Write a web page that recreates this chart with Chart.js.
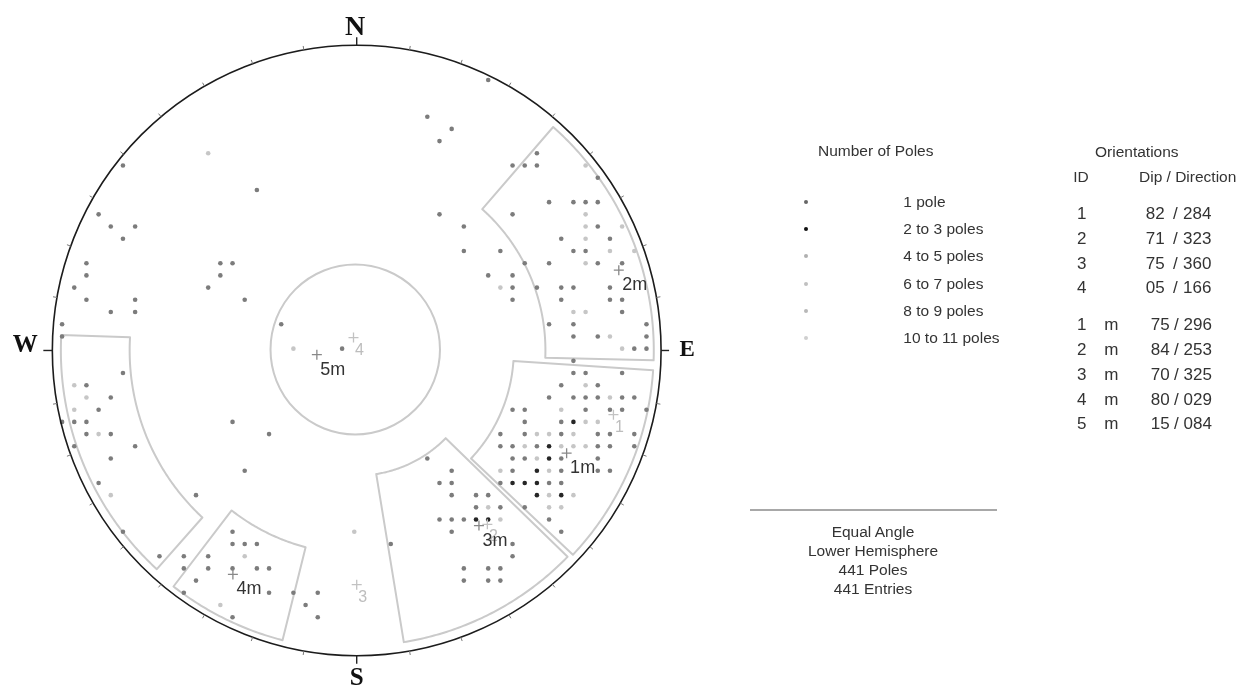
<!DOCTYPE html>
<html>
<head>
<meta charset="utf-8">
<script src="https://cdn.jsdelivr.net/npm/chart.js@4.4.1/dist/chart.umd.min.js"></script>
<style>
  html, body { margin: 0; padding: 0; background: #fff; }
  #wrap { position: relative; width: 1247px; height: 693px; overflow: hidden;
          font-family: "Liberation Sans", Arial, sans-serif; color: #333; }
  #net { position: absolute; left: 0; top: 0; }
  .t { position: absolute; white-space: pre; line-height: 1; }
  .compass { font-family: "Liberation Serif", "Times New Roman", serif; font-weight: bold; color: #111; }
  .mk { position: absolute; border-radius: 50%; transform: translate(-50%, -50%); }
</style>
</head>
<body>
<div id="wrap"><canvas id="net" width="1247" height="693"></canvas></div>
<script>
// Poles binned on the counting grid, one [column, row] cell per symbol
const singlePoles = [
  [5,0],[16,2],[3,4],[4,5],[6,5],[5,6],[2,8],[2,9],[1,10],[2,11],[6,11],[4,12],[6,12],[0,13],[0,14],
  [13,8],[14,8],[13,9],[12,10],[15,11],[18,13],
  [35,-7],[30,-4],[32,-3],[31,-2],[39,-1],[37,0],[38,0],[39,0],[44,1],[40,3],[42,3],[43,3],[44,3],
  [31,4],[37,4],[33,5],[44,5],[41,6],[45,6],[33,7],[36,7],[42,7],[43,7],[38,8],[40,8],[44,8],[46,8],
  [35,9],[37,9],[37,10],[39,10],[41,10],[42,10],[45,10],[37,11],[41,11],[45,11],[46,11],[46,12],
  [40,13],[42,13],[48,13],[42,14],[44,14],[48,14],[47,15],[48,15],
  [42,16],[42,17],[43,17],[46,17],[41,18],[44,18],
  [40,19],[42,19],[43,19],[44,19],[46,19],[47,19],
  [37,20],[38,20],[43,20],[45,20],[46,20],[48,20],[38,21],[41,21],
  [36,22],[38,22],[41,22],[44,22],[45,22],[47,22],
  [36,23],[37,23],[39,23],[44,23],[45,23],[47,23],
  [30,24],[37,24],[38,24],[41,24],[44,24],[32,25],[37,25],[41,25],[44,25],[45,25],
  [31,26],[32,26],[36,26],[40,26],[41,26],[32,27],[34,27],[35,27],[34,28],[36,28],[38,28],
  [31,29],[32,29],[33,29],[40,29],[32,30],[41,30],[27,31],[37,31],[37,32],
  [33,33],[35,33],[36,33],[33,34],[35,34],[36,34],
  [5,17],[2,18],[4,19],[3,20],[0,21],[1,21],[2,21],[2,22],[4,22],[1,23],[6,23],[4,24],[3,26],
  [5,30],[8,32],[10,32],[12,32],[10,33],[12,33],[11,34],[10,35],
  [14,30],[14,31],[15,31],[16,31],[14,33],[16,33],[17,33],[17,35],[19,35],[21,35],[20,36],[21,37],[14,37],
  [14,21],[17,22],[15,25],[11,27],[23,15]
];
const multiPoles = [
  [42,21],[40,23],[40,24],[39,25],[37,26],[38,26],[39,26],[39,27],[41,27],[34,29],[35,29]
];
const densePoles = [
  [12,-1],[43,0],[43,4],[43,5],[46,5],[43,6],[45,7],[47,7],[43,8],[36,10],[42,12],[43,12],[45,14],[46,15],
  [43,18],[45,19],[41,20],[43,21],[44,21],[39,22],[40,22],[42,22],[38,23],[41,23],[42,23],[43,23],
  [39,24],[36,25],[40,25],[40,27],[42,27],[35,28],[40,28],[41,28],[36,29],[24,30],[19,15],
  [1,18],[2,19],[1,20],[3,22],[4,27],[15,32],[13,36]
];

const poleClassLabels = ['1 pole', '2 to 3 poles', '4 to 5 poles', '6 to 7 poles', '8 to 9 poles', '10 to 11 poles'];

// Orientations table
const planeIds  = ['1', '2', '3', '4'];
const planeDips = [82, 71, 75, 5];
const planeDirs = [284, 323, 360, 166];
const meanIds   = ['1', '2', '3', '4', '5'];
const meanDips  = [75, 84, 70, 80, 15];
const meanDirs  = [296, 253, 325, 29, 84];

// Set windows (dip-direction sectors): azimuth range and radial range on the net
const windowAzFrom = [41.4, 93.8, 134.3, 194.4, 222.5];
const windowAzTo   = [92.2, 133.3, 171.0, 218.1, 273.3];
const windowRIn    = [15.5, 12.9, 10.25, 16.65, 18.65];
const windowROut   = [24.4, 24.4, 24.2, 24.5, 24.3];

const summaryLines = ['Equal Angle', 'Lower Hemisphere', '441 Poles', '441 Entries'];

// net geometry in grid units
const NET = { col: 24.2, row: 15.15, radius: 25 };
const CONE = { col: 24.08, row: 15.07, radius: 6.96 };
const D2R = Math.PI / 180;

const pad = (v, n) => String(v).padStart(n, '0');
const toPoints = cells => cells.map(c => ({ x: c[0], y: c[1] }));

// equal-angle lower-hemisphere pole of a plane given as dip / dip direction
function poleCell(dip, dir) {
  const r = NET.radius * Math.tan(dip / 2 * D2R);
  const trend = (dir + 180) % 360;
  return { x: NET.col + r * Math.sin(trend * D2R), y: NET.row - r * Math.cos(trend * D2R) };
}

const stereonet = {
  id: 'stereonet',
  beforeDatasetsDraw(chart) {
    const ctx = chart.ctx, xs = chart.scales.x, ys = chart.scales.y;
    const polar = (az, r) => [xs.getPixelForValue(NET.col + r * Math.sin(az * D2R)),
                              ys.getPixelForValue(NET.row - r * Math.cos(az * D2R))];
    ctx.save();
    ctx.strokeStyle = '#cacaca';
    ctx.lineWidth = 2;
    ctx.lineJoin = 'round';
    for (let i = 0; i < windowAzFrom.length; i++) {
      const a0 = windowAzFrom[i], a1 = windowAzTo[i];
      ctx.beginPath();
      for (let a = a0; a <= a1 + 1e-6; a += 0.5) {
        const p = polar(Math.min(a, a1), windowROut[i]);
        a === a0 ? ctx.moveTo(p[0], p[1]) : ctx.lineTo(p[0], p[1]);
      }
      for (let a = a1; a >= a0 - 1e-6; a -= 0.5) {
        const p = polar(Math.max(a, a0), windowRIn[i]);
        ctx.lineTo(p[0], p[1]);
      }
      ctx.closePath();
      ctx.stroke();
    }
    const ccx = xs.getPixelForValue(CONE.col), ccy = ys.getPixelForValue(CONE.row);
    ctx.beginPath();
    ctx.ellipse(ccx, ccy, xs.getPixelForValue(CONE.col + CONE.radius) - ccx,
                ys.getPixelForValue(CONE.row + CONE.radius) - ccy, 0, 0, Math.PI * 2);
    ctx.stroke();
    ctx.restore();
  },
  afterDatasetsDraw(chart) {
    const ctx = chart.ctx, xs = chart.scales.x, ys = chart.scales.y;
    const cx = xs.getPixelForValue(NET.col), cy = ys.getPixelForValue(NET.row);
    const rx = xs.getPixelForValue(NET.col + NET.radius) - cx;
    const ry = ys.getPixelForValue(NET.row + NET.radius) - cy;
    ctx.save();
    // primitive circle
    ctx.strokeStyle = '#1c1c1c';
    ctx.lineWidth = 1.6;
    ctx.beginPath();
    ctx.ellipse(cx, cy, rx, ry, 0, 0, Math.PI * 2);
    ctx.stroke();
    // azimuth ticks
    for (let az = 0; az < 360; az += 10) {
      const s = Math.sin(az * D2R), c = Math.cos(az * D2R);
      const cardinal = az % 90 === 0;
      const len = cardinal ? (az === 270 ? 9 : 8) : 4;
      ctx.strokeStyle = cardinal ? '#222' : '#777';
      ctx.lineWidth = cardinal ? 1.4 : 1;
      ctx.beginPath();
      ctx.moveTo(cx + rx * s, cy - ry * c);
      ctx.lineTo(cx + (rx + len) * s, cy - (ry + len) * c);
      ctx.stroke();
    }
    // pole crosses for planes and set means
    const cross = (p, col, arm) => {
      const px = xs.getPixelForValue(p.x), py = ys.getPixelForValue(p.y);
      ctx.strokeStyle = col;
      ctx.lineWidth = 1.3;
      ctx.beginPath();
      ctx.moveTo(px - arm, py); ctx.lineTo(px + arm, py);
      ctx.moveTo(px, py - arm); ctx.lineTo(px, py + arm);
      ctx.stroke();
    };
    planeDips.forEach((d, i) => cross(poleCell(d, planeDirs[i]), '#c2c2c2', 5));
    meanDips.forEach((d, i) => cross(poleCell(d, meanDirs[i]), '#888', 5));
    ctx.restore();
  }
};

const dotStyle = color => ({
  pointRadius: 2.3, pointHoverRadius: 2.3, pointBorderWidth: 0,
  backgroundColor: color, borderColor: color, showLine: false
});

const chart = new Chart(document.getElementById('net'), {
  type: 'scatter',
  data: {
    datasets: [
      Object.assign({ label: poleClassLabels[2], data: toPoints(densePoles) }, dotStyle('#c6c6c6')),
      Object.assign({ label: poleClassLabels[0], data: toPoints(singlePoles) }, dotStyle('#7c7c7c')),
      Object.assign({ label: poleClassLabels[1], data: toPoints(multiPoles) }, dotStyle('#262626'))
    ]
  },
  options: {
    responsive: false,
    animation: false,
    events: [],
    layout: { padding: 0 },
    plugins: { legend: { display: false }, tooltip: { enabled: false } },
    scales: {
      x: { type: 'linear', display: false, min: -4.910, max: 97.136 },
      y: { type: 'linear', display: false, reverse: true, min: -13.369, max: 43.018 }
    }
  },
  plugins: [stereonet]
});

// ---- text layer ----
const wrap = document.getElementById('wrap');
function addText(txt, x, y, o = {}) {
  const d = document.createElement('div');
  d.className = 't' + (o.cls ? ' ' + o.cls : '');
  d.textContent = txt;
  d.style.left = x + 'px';
  d.style.top = y + 'px';
  d.style.fontSize = (o.size || 15.5) + 'px';
  if (o.color) d.style.color = o.color;
  d.style.transform = o.center ? 'translate(-50%,-50%)' : 'translate(0,-50%)';
  wrap.appendChild(d);
  return d;
}

const xs = chart.scales.x, ys = chart.scales.y;
const ncx = xs.getPixelForValue(NET.col), ncy = ys.getPixelForValue(NET.row);
const nTop = ys.getPixelForValue(NET.row - NET.radius), nBot = ys.getPixelForValue(NET.row + NET.radius);
const nLeft = xs.getPixelForValue(NET.col - NET.radius), nRight = xs.getPixelForValue(NET.col + NET.radius);

addText('N', ncx - 1.5, nTop - 19.5, { cls: 'compass', size: 28, center: true });
addText('S', ncx, nBot + 20, { cls: 'compass', size: 25, center: true });
addText('W', nLeft - 27, ncy - 7, { cls: 'compass', size: 25, center: true });
addText('E', nRight + 26, ncy - 2, { cls: 'compass', size: 23, center: true });

// labels beside the projected poles
planeIds.forEach((id, i) => {
  const p = poleCell(planeDips[i], planeDirs[i]);
  addText(id, xs.getPixelForValue(p.x) + 6, ys.getPixelForValue(p.y) + 12, { size: 16, color: '#bdbdbd', center: true });
});
meanIds.forEach((id, i) => {
  const p = poleCell(meanDips[i], meanDirs[i]);
  addText(id + 'm', xs.getPixelForValue(p.x) + 16, ys.getPixelForValue(p.y) + 14, { size: 18, color: '#333', center: true });
});

// pole count key
const keyColors = ['#666', '#111', '#b0b0b0', '#c0c0c0', '#b8b8b8', '#cfcfcf'];
addText('Number of Poles', 818, 151);
poleClassLabels.forEach((lab, i) => {
  const y = 201.7 + i * 27.3;
  const m = document.createElement('div');
  m.className = 'mk';
  m.style.left = '805.7px';
  m.style.top = y + 'px';
  m.style.width = m.style.height = '4px';
  m.style.background = keyColors[i];
  wrap.appendChild(m);
  addText(lab, 903.3, y);
});

// orientations table
addText('Orientations', 1095, 152);
addText('ID', 1073.3, 176.7);
addText('Dip / Direction', 1139, 176.7);
planeIds.forEach((id, i) => {
  const y = 213.3 + i * 24.7;
  addText(id, 1077, y, { size: 17 });
  addText(pad(planeDips[i], 2), 1145.7, y, { size: 17 });
  addText('/', 1173, y, { size: 17 });
  addText(pad(planeDirs[i], 3), 1183, y, { size: 17 });
});
meanIds.forEach((id, i) => {
  const y = 324.3 + i * 24.75;
  addText(id, 1077, y, { size: 17 });
  addText('m', 1104.3, y, { size: 17 });
  addText(pad(meanDips[i], 2), 1150.7, y, { size: 17 });
  addText('/', 1174, y, { size: 17 });
  addText(pad(meanDirs[i], 3), 1183.5, y, { size: 17 });
});

// projection summary
const rule = document.createElement('div');
rule.style.cssText = 'position:absolute;left:750px;top:509px;width:247px;height:2px;background:#a8a8a8;';
wrap.appendChild(rule);
summaryLines.forEach((s, i) => addText(s, 873, 532.3 + i * 18.9, { center: true }));
</script>
</body>
</html>
